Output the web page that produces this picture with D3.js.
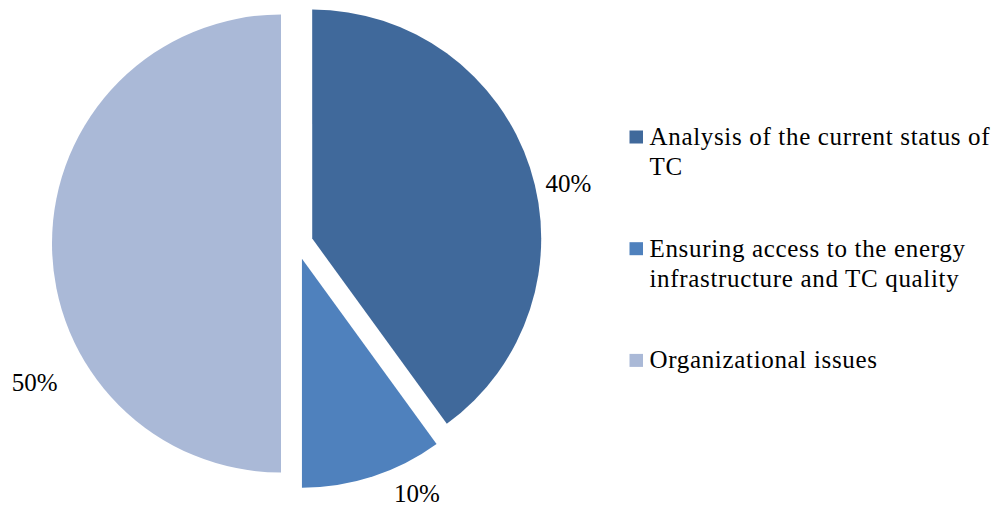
<!DOCTYPE html>
<html>
<head>
<meta charset="utf-8">
<script src="https://cdn.jsdelivr.net/npm/d3@7"></script>
<style>
  html, body { margin: 0; padding: 0; background: #ffffff; }
  svg { display: block; }
  text { font-family: "Liberation Serif", "Times New Roman", "DejaVu Serif", serif; }
</style>
</head>
<body>
<svg id="chart" width="996" height="506"></svg>
<script>
// Topics and their shares (percent)
const categories = [
  "Analysis of the current status of TC",
  "Ensuring access to the energy infrastructure and TC quality",
  "Organizational issues"
];
const values = [40, 10, 50];
const valueLabels = ["40%", "10%", "50%"];
const colors = ["#40699B", "#4F81BD", "#AAB9D7"];

// Layout
const W = 996, H = 506;
const cx = 297, cy = 243.5, R = 229, explode = 16;
const fontFamily = "'Liberation Serif', 'Times New Roman', serif";
const fontSize = 25;
// where each percentage label sits: angle (deg, clockwise from top) and distance from its slice's apex
const labelPlacement = [
  { angle: 78, dist: 262 },
  { angle: 154, dist: 262 },
  { angle: 240.5, dist: 283 }
];

const svg = d3.select("#chart");

const pie = d3.pie().sort(null).value(d => d)(values);
const arc = d3.arc().innerRadius(0).outerRadius(R);

const gPie = svg.append("g").attr("transform", `translate(${cx},${cy})`);

pie.forEach((p, i) => {
  const mid = (p.startAngle + p.endAngle) / 2;
  const ox = Math.sin(mid) * explode, oy = -Math.cos(mid) * explode;
  const g = gPie.append("g").attr("transform", `translate(${ox},${oy})`);
  g.append("path")
    .attr("d", arc(p))
    .attr("fill", colors[i]);

  const lp = labelPlacement[i];
  const a = lp.angle * Math.PI / 180;
  g.append("text")
    .attr("x", Math.sin(a) * lp.dist)
    .attr("y", -Math.cos(a) * lp.dist)
    .attr("dy", "0.33em")
    .attr("text-anchor", "middle")
    .attr("font-family", fontFamily)
    .attr("font-size", fontSize)
    .attr("fill", "#000")
    .text(valueLabels[i]);
});

// Legend
const legendX = 629.5, textX = 649.5, firstBaseline = 145, entryStep = 111.7, lineStep = 29.8;
const maxTextWidth = 360;
const legend = svg.append("g");

categories.forEach((name, i) => {
  const base = firstBaseline + i * entryStep;
  legend.append("rect")
    .attr("x", legendX)
    .attr("y", base - 14.5)
    .attr("width", 13.5)
    .attr("height", 13)
    .attr("fill", colors[i]);

  const text = legend.append("text")
    .attr("x", textX)
    .attr("y", base)
    .attr("font-family", fontFamily)
    .attr("font-size", fontSize)
    .attr("letter-spacing", "0.67px")
    .attr("fill", "#000");

  // simple word wrap
  const words = name.split(" ");
  let line = [];
  let lineNo = 0;
  let tspan = text.append("tspan").attr("x", textX).attr("y", base);
  words.forEach(w => {
    line.push(w);
    tspan.text(line.join(" "));
    if (tspan.node().getComputedTextLength() > maxTextWidth && line.length > 1) {
      line.pop();
      tspan.text(line.join(" "));
      line = [w];
      lineNo++;
      tspan = text.append("tspan").attr("x", textX).attr("y", base + lineNo * lineStep).text(w);
    }
  });
});
</script>
</body>
</html>
